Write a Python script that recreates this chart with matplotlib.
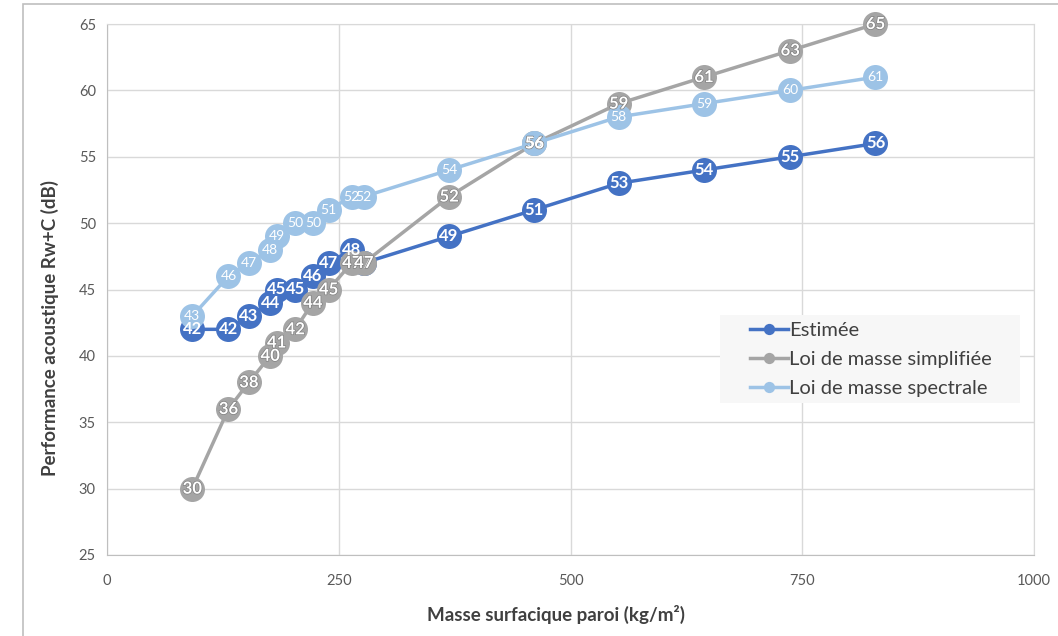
import matplotlib.pyplot as plt
import matplotlib.patheffects as pe
from matplotlib.patches import Rectangle

# surface mass of the wall (kg/m2), shared by the three series
masse = [92, 131, 153, 176, 183, 203, 222, 239, 264, 277, 369, 461, 552, 644, 737, 829]

estimee = [42, 42, 43, 44, 45, 45, 46, 47, 48, 47, 49, 51, 53, 54, 55, 56]
loi_simplifiee = [30, 36, 38, 40, 41, 42, 44, 45, 47, 47, 52, 56, 59, 61, 63, 65]
loi_spectrale = [43, 46, 47, 48, 49, 50, 50, 51, 52, 52, 54, 56, 58, 59, 60, 61]

labels = ['Estimée', 'Loi de masse simplifiée', 'Loi de masse spectrale']
colors = ['#4472C4', '#A5A5A5', '#9DC3E6']
all_series = [estimee, loi_simplifiee, loi_spectrale]

plt.rcParams['font.family'] = ['Lato', 'DejaVu Sans']

W, H = 1058, 636
fig = plt.figure(figsize=(W / 100, H / 100), dpi=100)
ax = fig.add_axes([107 / W, 1 - 555 / H, (1034 - 107) / W, (555 - 24) / H])

# outer chart border
fig.patches.append(Rectangle((23 / W, -0.01), 1.0, 1 - 4 / H + 0.01, transform=fig.transFigure,
                             fill=False, edgecolor='#BFBFBF', linewidth=1.2))

# excel draws the series in order: first one at the bottom
for i, y in enumerate(all_series):
    ax.plot(masse, y, color=colors[i], linewidth=2.5, marker='o', markersize=18,
            markeredgewidth=0, label=labels[i], zorder=3 + i, clip_on=False)

# data labels on top of everything
for i, y in enumerate(all_series):
    for xv, yv in zip(masse, y):
        if i == 2:
            ax.text(xv, yv, str(yv), color='white', fontsize=10, ha='center', va='center',
                    zorder=10, clip_on=False)
        else:
            t = ax.text(xv, yv, str(yv), color='white', fontsize=12, fontweight='bold',
                        ha='center', va='center', zorder=10, clip_on=False)
            if i == 1:
                t.set_path_effects([pe.withStroke(linewidth=1, foreground='#7F7F7F')])

ax.set_xlim(0, 1000)
ax.set_ylim(25, 65)
ax.set_xticks([0, 250, 500, 750, 1000])
ax.set_yticks(range(25, 66, 5))
ax.grid(True, color='#D9D9D9', linewidth=1)
ax.set_axisbelow(True)
for s in ax.spines.values():
    s.set_color('#D9D9D9')
ax.spines['left'].set_color('#BFBFBF')
ax.spines['bottom'].set_color('#BFBFBF')
ax.tick_params(length=0, labelsize=10.5, labelcolor='#595959', pad=8)
ax.tick_params(axis='x', pad=14)

ax.set_xlabel('Masse surfacique paroi (kg/m²)', fontsize=13.5, fontweight='bold', color='#404040')
ax.set_ylabel('Performance acoustique Rw+C (dB)', fontsize=13.5, fontweight='bold', color='#404040')
ax.xaxis.set_label_coords(0.484, -0.094)
ax.yaxis.set_label_coords(-0.052, 0.427)

# legend box drawn by hand so the paddings match
ax.add_patch(Rectangle((613 / 927, 152 / 531), 300 / 927, 88 / 531, transform=ax.transAxes,
                       facecolor='#F7F7F7', edgecolor='none', zorder=11))
leg = ax.legend(loc='upper left', bbox_to_anchor=(643 / 927, 233 / 531),
                frameon=False, fontsize=14.5, markerscale=0.45, handlelength=1.9, handletextpad=0.05,
                borderpad=0, labelspacing=0.6, borderaxespad=0)
leg.set_zorder(12)
for t in leg.get_texts():
    t.set_color('#404040')

fig.savefig('out.png', dpi=100)
